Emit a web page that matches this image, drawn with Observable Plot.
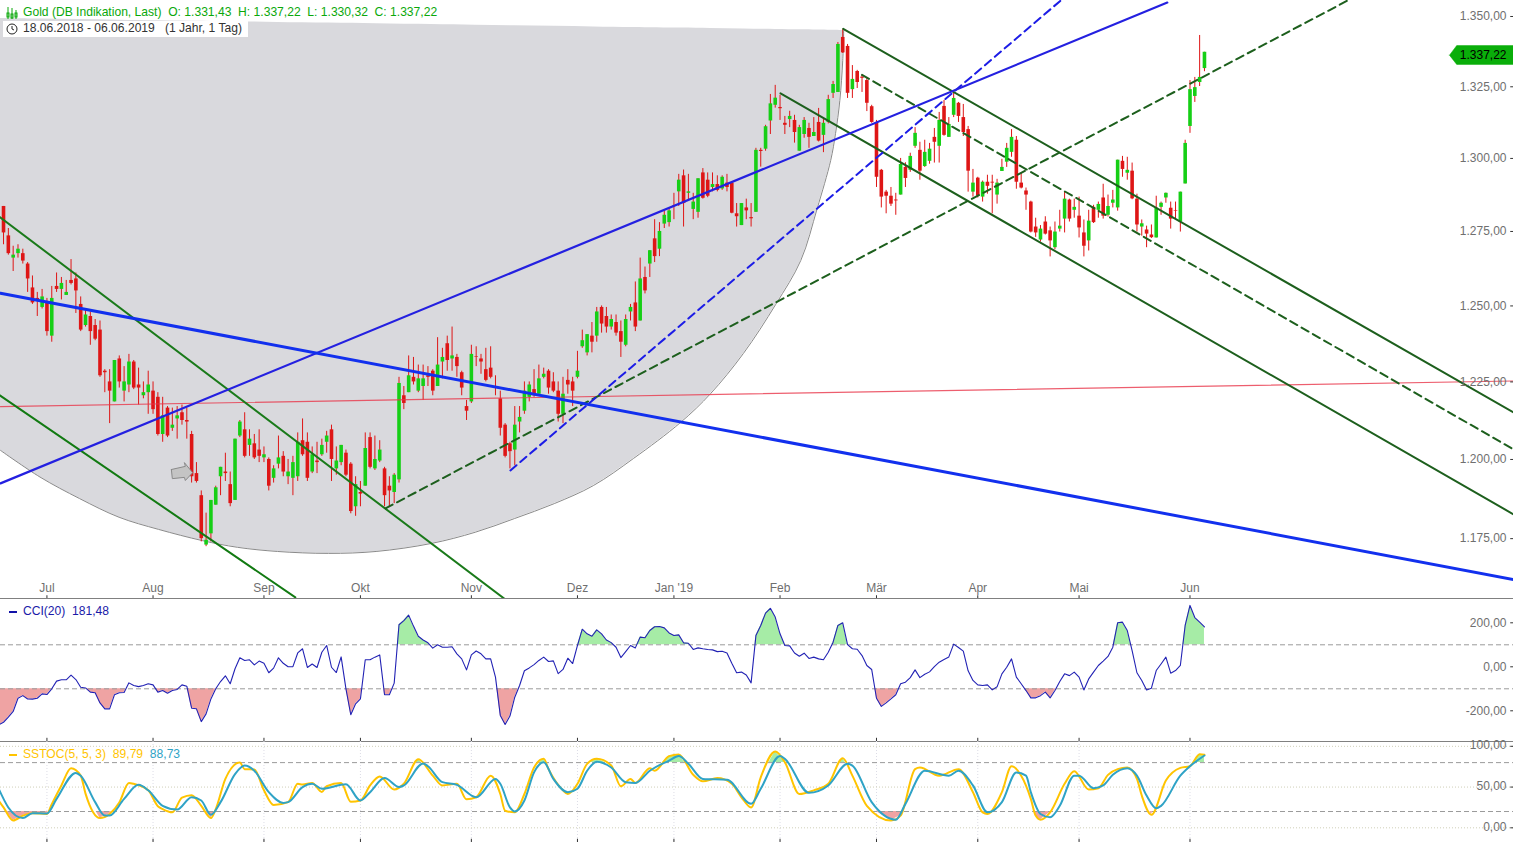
<!DOCTYPE html>
<html lang="de">
<head>
<meta charset="utf-8">
<title>Gold (DB Indikation, Last)</title>
<script src="https://cdn.jsdelivr.net/npm/d3@7"></script>
<script src="https://cdn.jsdelivr.net/npm/@observablehq/plot@0.6"></script>
<style>
html,body{margin:0;padding:0;background:#fff;overflow:hidden}
#chart{position:relative;width:1513px;height:842px;font:12.1px "Liberation Sans",Arial,sans-serif}
#chart svg{display:block}
.lbl{position:absolute;white-space:pre;line-height:14px}
</style>
</head>
<body>
<div id="chart"></div>
<script>
// Trading-day index of the first session of each month, and its label
const monthBars = [10,32,55,75,98,120,140,162,182,203,224,247];
const monthLabels = ["Jul","Aug","Sep","Okt","Nov","Dez","Jan '19","Feb","Mär","Apr","Mai","Jun"];
const priceTicks = [1350,1325,1300,1275,1250,1225,1200,1175];
const priceLabels = ["1.350,00","1.325,00","1.300,00","1.275,00","1.250,00","1.225,00","1.200,00","1.175,00"];
const cciTicks = [200,0,-200];
const cciLabels = ["200,00","0,00","-200,00"];
const stochTicks = [100,50,0];
const stochLabels = ["100,00","50,00","0,00"];

// Daily bars from session 1 on: open, high, low, close
const bars = [
[1283.5,1283.5,1270.5,1274.5],[1273.5,1276,1267,1267.5],[1266,1270,1261.5,1267],[1267.5,1270.5,1266,1269],
[1267.5,1269,1264,1265],[1264,1264.5,1254.5,1259],[1256,1260,1250.5,1251],[1252.5,1254.5,1246.5,1251.5],[1249.5,1255.5,1249,1253],
[1251,1252.5,1240,1241.5],[1240,1256.5,1238,1252.5],[1256.5,1261,1254.5,1255.5],[1255.5,1259.5,1252,1257.5],[1253.5,1258.5,1253.5,1254.5],
[1258.5,1265.5,1257,1257.5],[1259,1261,1247.5,1255],[1250.5,1253,1241.5,1242],[1243.5,1248.5,1243,1247],[1246.5,1248,1237,1241.5],
[1243.5,1245.5,1238.5,1239],[1242,1245,1226.5,1227],[1228.5,1229,1221.5,1228],[1225,1229,1211.5,1222],[1218.5,1232,1218.5,1232],
[1232.5,1233.5,1223,1225],[1222,1230,1218.5,1225],[1224,1234,1221.5,1231.5],[1231.5,1232,1222.5,1223],[1224,1229.5,1217.5,1223],
[1220.5,1225,1219.5,1221.5],[1221.5,1228.5,1214.5,1224],[1222,1225,1214.5,1216],[1220,1221.5,1207.5,1208],[1208,1220,1205.5,1214],
[1216.5,1217,1207,1207.5],[1210,1216.5,1209,1211],[1213,1217,1206.5,1214],[1215,1217.5,1211,1212.5],[1212.5,1216.5,1206.5,1212],
[1208,1209,1192.5,1194.5],[1195.5,1199,1192.5,1193],[1188.5,1190,1174,1175],[1173,1183,1172.5,1174.5],[1176.5,1187,1174,1187],
[1185.5,1191.5,1185.5,1191],[1194.5,1197.5,1188.5,1197.5],[1196,1202,1193,1195.5],[1192,1196,1185,1186],[1187,1206.5,1187,1206.5],
[1207.5,1212.5,1207,1212],[1209.5,1215,1200.5,1201],[1204.5,1209.5,1201,1206.5],[1205,1208,1200,1200.5],[1203,1209.5,1199,1201],
[1200.5,1204,1199,1201.5],[1200,1200.5,1190,1191.5],[1194,1198,1192.5,1197],[1198.5,1207.5,1197,1200.5],[1201,1202.5,1194.5,1196],
[1194.5,1200,1192,1196],[1194,1201,1188.5,1199],[1194.5,1208.5,1193,1205.5],[1206,1213,1201,1201.5],[1205.5,1208.5,1193,1194],
[1196,1204,1195.5,1201.5],[1199.5,1205.5,1195.5,1199],[1201.5,1206.5,1201,1204.5],[1205.5,1209,1202,1207.5],[1209.5,1211,1193,1200],
[1197,1204,1195,1199.5],[1199,1204.5,1198,1204.5],[1202,1203,1194.5,1195],[1198.5,1199,1182.8,1183.5],[1185,1194.5,1182,1192],
[1189.5,1193,1185,1189],[1191.5,1208.5,1191.5,1203.5],[1207,1208.5,1197,1197.5],[1197,1207.5,1196.5,1200],[1199.5,1206,1199,1203],
[1197,1197.5,1185,1188.5],[1191.5,1194.5,1185,1190],[1189.5,1195.5,1186,1195],[1193.5,1226.5,1192.5,1224.5],[1220.5,1223.5,1216,1218],
[1221.5,1233.5,1221.5,1227],[1226.5,1233,1224,1225],[1222,1230.5,1221.5,1226],[1223.5,1230.5,1219,1226],[1227,1230,1223.5,1226.5],
[1228.5,1229,1220.5,1222],[1223.5,1239.5,1223.5,1230.5],[1231.5,1236,1226,1233],[1237.5,1240,1228.5,1232],[1232.5,1243,1228.5,1233.5],
[1233,1234,1226.5,1230],[1228,1228.5,1220.5,1223],[1217,1219,1212.5,1215.5],[1218.5,1237,1218,1234],[1233.2,1236.5,1230,1233],
[1232.5,1234,1227.5,1231.5],[1229,1236,1225,1225.5],[1229.5,1236.5,1226,1226.5],[1223.5,1227,1220.5,1223],[1219.5,1222,1207.5,1210],
[1211,1211.5,1200.5,1201],[1205,1205.5,1197,1202.5],[1203,1217,1198,1211],[1212,1217,1208.5,1213.5],[1215.5,1225,1214.5,1222],
[1220,1225,1218.5,1224],[1222.5,1229,1220,1220.5],[1221,1230.5,1221,1226],[1226.5,1229.5,1226,1227.5],[1228.5,1229,1221,1223],
[1225,1228,1221.5,1222],[1222,1225,1212,1214.5],[1214.5,1226.5,1211.5,1221],[1225.5,1229,1221,1224],[1225,1226.5,1217,1222],
[1226.5,1235,1226,1228.5],[1236.5,1242,1236,1238.5],[1234.5,1240.5,1233.5,1240.5],[1240,1244.5,1234.5,1238],[1240,1249.5,1238,1248],
[1249.5,1250,1241,1244],[1246.5,1249.5,1241,1243],[1243,1247,1242,1245.5],[1244.5,1247,1240,1241],[1241.5,1245,1233,1238],
[1237,1247,1236.5,1245.5],[1248,1250.5,1245,1249.5],[1251,1258,1241.5,1243],[1245,1266,1245,1259],[1259.5,1263,1254,1255],
[1264,1268.5,1259.5,1268.5],[1272.5,1279,1264.5,1266.5],[1269,1278,1266.5,1275],[1277.5,1282,1276,1280.5],[1278,1283,1276.5,1282],
[1283.7,1288,1279,1283.5],[1288.5,1294.5,1283.5,1292.5],[1294,1296,1276.5,1284.5],[1288,1294.5,1285.5,1288.5],[1282.5,1288,1279,1285],
[1281.5,1293,1279.5,1293],[1295,1296.5,1286,1286.3],[1292.5,1295,1286.5,1287],[1290,1295,1288.5,1291],[1291,1294,1288.5,1289],
[1289.5,1294,1289,1293.5],[1291.5,1294.5,1288.5,1290],[1291.5,1292,1281,1281.2],[1281,1284.5,1276.5,1280],[1277,1284.5,1277,1284.5],
[1283,1286,1279,1282],[1279.7,1284.5,1276.5,1279.3],[1281.5,1303.5,1281.5,1302.8],[1302.8,1303.5,1297,1302.4],[1303.2,1311.5,1302.5,1311],
[1313,1322.3,1308.3,1319],[1318.5,1325.5,1317.5,1321],[1317.7,1322,1313.2,1317.3],[1312.2,1314.6,1308.3,1311.5],[1313.5,1316.4,1310.7,1314.6],
[1313.2,1315,1305.3,1309],[1302.5,1311.5,1302.5,1310.7],[1308.3,1314.2,1307,1313.2],[1310.4,1312.2,1303.5,1307.3],[1307.6,1314.2,1307.6,1309],
[1312.5,1317.4,1305.7,1306],[1308,1313.5,1302,1312.2],[1312.5,1322,1312,1320.5],[1322.7,1326.9,1320.9,1325.8],[1323,1340.7,1323,1340],
[1342.5,1345.3,1336.8,1337],[1339.3,1340,1320.9,1322.7],[1324,1332.5,1320.9,1327.6],[1330.4,1330.8,1324.4,1326.5],[1328.4,1329.1,1323,1328],
[1327.2,1328.3,1316.3,1319.2],[1318,1318.5,1312.2,1312.5],[1312.5,1313.2,1290,1293.5],[1295.9,1296.2,1283,1286.7],[1288.4,1289,1281,1287],
[1287,1290,1283.5,1284.3],[1285.7,1288,1280.5,1285.4],[1287.4,1300,1287.4,1297.9],[1296.9,1298.5,1290,1293.1],[1295.9,1301.8,1295.2,1300.7],
[1304.2,1310.7,1303.5,1308.7],[1302.8,1305.6,1292.5,1295.6],[1297.2,1306.3,1296.9,1302.1],[1299,1305.2,1298,1303.2],[1307.3,1310.4,1298.4,1305.6],
[1304.2,1316,1298.4,1313.2],[1318.1,1320.2,1307.7,1308],[1307.3,1314.2,1307.3,1311.8],[1315,1323,1314.2,1320.9],[1319.2,1319.5,1312.5,1314.6],
[1314.2,1318.8,1307.6,1309],[1310,1311.1,1288.4,1295.6],[1288.4,1296.2,1286.7,1291.5],[1293.2,1293.5,1286.4,1287],[1286.7,1292.2,1285,1291.8],
[1291.8,1294.2,1287.7,1290.4],[1291.8,1294.2,1281,1291.5],[1287.4,1292.8,1284.3,1291.5],[1295.5,1299.7,1295.5,1296.9],[1298.7,1305.2,1296.9,1303.5],
[1302.1,1310,1300.4,1307.3],[1306.3,1307.6,1289.4,1291.8],[1291.5,1295,1289.5,1289.8],[1288.8,1289.8,1282.2,1287.4],[1285,1285.3,1274.5,1274.8],
[1276.5,1279.5,1273,1274.5],[1272.1,1277,1271.4,1275.8],[1278.2,1280,1273.8,1274.1],[1275.2,1276.5,1266.4,1271.8],[1269.5,1278.2,1268.8,1274.8],
[1275.8,1282.2,1274.8,1276.8],[1279.2,1288.4,1274.5,1286],[1285.7,1286,1278.2,1279.2],[1282.2,1286,1279.5,1283.2],[1280.2,1286.7,1272.8,1276.2],
[1274.5,1278.9,1266.4,1270],[1271.8,1282.2,1268.4,1278.5],[1283.2,1283.9,1277.7,1278],[1282.2,1285,1279.5,1284.2],[1286.4,1291.1,1279.2,1280.2],
[1280.5,1287.4,1279.9,1283.5],[1284.6,1289,1283,1285.7],[1283,1299.4,1281.9,1299.4],[1299,1300.7,1293.5,1296.2],[1294.9,1300.4,1292.5,1295.9],
[1295.6,1298.4,1285.8,1286.1],[1286,1287.7,1274.8,1277.2],[1276.5,1278.9,1273.4,1277.6],[1275.5,1276.8,1269.5,1274.1],[1273.8,1277.2,1272.6,1272.9],
[1272.8,1287,1272.8,1282.9],[1283.2,1285,1280.5,1284.6],[1286.4,1288.1,1284.6,1288],[1282.9,1285,1275.8,1279.2],[1282,1285,1279.2,1281.8],
[1278.2,1288.4,1274.8,1288.4],[1291.2,1306.3,1291.2,1305.2],[1311.1,1327.2,1308.7,1324],[1321.6,1328.3,1319.5,1324.7],[1326.5,1343.2,1325.1,1328.3],
[1331.43,1337.22,1330.32,1337.22]
];

// CCI(20), one value per bar
const cciValues = [
-264,-252,-229,-203,-143,-131,-146,-147,-143,-123,-126,-100,-65,-59,-59,-38,-58,-93,-96,-115,
-118,-164,-191,-191,-127,-118,-117,-73,-85,-90,-85,-77,-82,-115,-108,-120,-108,-103,-82,-88,
-188,-191,-249,-214,-146,-100,-67,-41,-77,-9,41,29,32,9,26,16,-27,-6,41,16,
0,1,63,82,-3,13,-3,66,97,-2,-26,45,-100,-218,-168,-146,32,32,44,54,
-127,-127,-74,191,210,235,185,139,122,109,85,100,89,89,91,59,36,-14,54,72,
59,36,36,-47,-221,-262,-224,-138,-85,-18,-5,10,29,44,24,27,-31,-12,39,15,
97,171,150,139,168,150,122,110,89,42,69,97,86,135,132,165,182,183,177,154,
142,145,109,107,79,86,82,79,77,69,71,63,16,-27,-24,-37,-73,142,188,244,
266,226,150,97,95,63,48,62,38,44,36,32,66,112,188,200,101,82,80,51,
6,-12,-143,-180,-164,-146,-127,-77,-70,-49,-14,-49,-34,-23,1,21,33,45,103,88,
71,-18,-62,-82,-85,-82,-105,-91,-32,-2,36,-47,-77,-108,-141,-141,-131,-115,-141,-108,
-67,-32,-40,-24,-47,-105,-55,-24,6,26,47,89,200,203,165,74,-27,-62,-105,-97,
-17,13,44,-29,-17,6,188,279,224,203,181.48
];

// SSTOC(5,5,3) lines, read at their turning points: [bar, value]
const stochK = [
[0,33.5],[1,25],[3,9],[5,15],[7,18],[10,17],[11,29],[13,52],[15,73],[17,64],[18,42],[21,12],[23,17],[25,31],[27,55],[28,54],[31,46],[33,26.5],[34,23],[36,19],[38,37],[40,40],[42,27],[44,12],[45,23],[47,60],[50,80],[51,72],[53,71.5],[55,46],[57,28],[60,31.5],[62,54],[63,53],[65,55],[67,44],[68,51],[71,55],[73,32],[75,33.5],[77,52],[79,63],[82,47],[84,54],[87,84],[90,64],[92,52],[95,54],[97,35],[99,37.5],[102,64],[104,41.5],
[105,21],[107,19],[109,41.5],[111,74],[113,84.6],[114,72],[117,46],[118,41.5],[120,54],[122,78.5],[124,84.6],[127,76.4],[129,51],[131,60],[132,55],[135,73],[136,70],[139,88],[141,90],[144,65],[146,57],[149,61],[152,54],[154,37.5],[156,25],[158,62],[161,93.6],[163,80.5],[166,41.5],[169,46],[172,54],[175,85.4],[177,64],[180,27],[185,9],[187,15],[190,72],[191,74],[195,64],[199,72],[202,43.7],[204,19],[205,17],[208,43.7],
[210,75.6],[212,64],[214,35.5],[215,15],[216,10],[218,19],[221,54],[223,69.5],[226,47],[228,48.6],[230,65],[232,72],[234,74],[236,60],[237,39.6],[239,16],[242,58],[245,73.5],[247,75.6],[249,90.3],[250,89.79]
];
const stochD = [
[0,48],[2,25],[5,12],[7,18],[10,17.5],[12,35.5],[16,67.4],[17,64],[20,31.5],[22,15],[23,15],[26,35.5],[29,52.7],[31,46],[34,27],[37,22.4],[40,37.5],[42,33.5],[44,16],[46,31.5],[49,66],[51,76.4],[53,70],[56,43.7],[59,30.6],[60,31.5],[63,50],[65,54],[67,48],[72,53.5],[75,33.5],[77,43.7],[80,61],[83,50],[84,52],[88,79],[89,75.6],[92,56],[95,52.7],[99,37.5],[103,60],
[104,54],[106,25],[107,20],[109,33.5],[111,68],[113,80.5],[115,60],[118,43.7],[120,48],[122,70],[124,81],[127,74],[130,56],[132,55],[135,70],[139,82.5],[141,88],[143,78.5],[146,60],[151,59],[156,29.4],[158,48],[162,88],[163,84.6],[168,43],[172,52],[176,78.5],[177,76.4],[181,31.5],[186,10],[188,29.4],[192,70],[197,64],[199,70],[202,52],[205,19],[208,31.5],
[211,68],[213,64],[214,43.7],[216,17],[218,13],[220,27],[223,64],[224,64],[227,48.6],[229,52],[231,65],[234,73],[236,64],[238,39.6],[240,24],[241,27],[245,64],[247,75.6],[250,88.73]
];

// Drawn trend lines: [bar, price] at each end
const blueThick = [[0.37,1254.2],[314.1,1162.3]];
const blueSolid = [[0.37,1192.4],[242.3,1355]];
const blueDashed = [[106.1,1196.5],[220.2,1355.75]];
const greenDashed = [[80.2,1184.5],[279.7,1355.75]];
const redLine = [[0.37,1217],[314.1,1225.3]];
const channelAUpper = [[0,1280.2],[105.1,1156.1]];
const channelALower = [[0,1220.9],[61.5,1156.8]];
const channelBTop = [[175.1,1345.6],[314.1,1215.1]];
const channelBMid = [[179,1329.2],[314.1,1203.2]];
const channelBLow = [[162.1,1322.7],[314.1,1182.6]];

// Grey ellipse annotation: lower arc [bar, price], and its upper chord
const arc = [[0.37,1202.9],[8.56,1194.4],[16.75,1187.6],[24.96,1181.7],[33.13,1177.9],[42.2,1174.4],[49.5,1172.3],[57.8,1171],[68.4,1170.4],[78.25,1171],[89.7,1173.5],[98.8,1177],[106.95,1181.3],[115.2,1186],[123.3,1191.7],[131.6,1200.3],[141.4,1211.9],[147.6,1221.2],[154.4,1234.3],[161.1,1250.5],[166.3,1265.2],[169.7,1282.8],[172.5,1299.3],[173.5,1308.6],[174.4,1320.2],[175,1334.3],[175.2,1345]];
const chord = [1349.3,1345];
// Grey arrow annotation and last-price flag outlines: [bar, price]
const arrowOutline = [[35.8,1196.8],[38.7,1197.8],[38.5,1199],[40.2,1195.8],[38.7,1193.3],[38.5,1194.3],[36,1193.9],[35.8,1196.8]];
const flagOutline = [[300.8,1336.2],[302.3,1339.6],[314.07,1339.6],[314.07,1332.9],[302.3,1332.9],[300.8,1336.2]];
const lastPriceLabel = "1.337,22";

const W = 1513;
const xDomain = [0.373,314.075];
const FONT = '"Liberation Sans",Arial,sans-serif';
const GREY = "#6f6f6f";
const UP = "#16cf16", DOWN = "#de1616";
const rows = bars.map(([o,h,l,c],k)=>({i:k+1,o,h,l,c}));
const isUp = d => d.c >= d.o;
const P0 = d=>d[0], P1 = d=>d[1];

function trend(points, opts){ return Plot.line(points,{x:P0,y:P1,clip:true,...opts}); }

// Insert the crossings with a level so a fill stops where the line meets it
function band(points, level, above){
  const out=[];
  const side=v=>above?Math.max(v,level):Math.min(v,level);
  points.forEach((p,k)=>{
    if(k){
      const q=points[k-1];
      if((q[1]-level)*(p[1]-level)<0){
        out.push({x:q[0]+(level-q[1])/(p[1]-q[1])*(p[0]-q[0]),y:level});
      }
    }
    out.push({x:p[0],y:side(p[1])});
  });
  return out;
}
const base = {width:W,marginTop:0,marginRight:0,marginBottom:0,marginLeft:0,style:{fontFamily:FONT,fontSize:"12px",background:"transparent",overflow:"hidden"}};
const monthText = {x:d=>d,text:(d,i)=>monthLabels[i],fill:GREY,fontSize:12,fontFamily:FONT};

const main = Plot.plot({
  ...base,height:598,
  x:{domain:xDomain,axis:null},
  y:{type:"log",domain:[1156.45,1355.75],axis:null},
  marks:[
    Plot.areaY(arc,{x:P0,y1:d=>chord[0]+(chord[1]-chord[0])*d[0]/175.2,y2:P1,fill:"#d9d9dd",curve:"catmull-rom"}),
    Plot.line(arc,{x:P0,y:P1,stroke:"#8a8a8a",strokeWidth:1,curve:"catmull-rom"}),
    Plot.ruleX(rows,{x:"i",y1:"l",y2:"h",stroke:DOWN,strokeWidth:1}),
    Plot.ruleX(rows.filter(isUp),{x:"i",y1:"o",y2:"c",stroke:UP,strokeWidth:3.6}),
    Plot.ruleX(rows.filter(d=>!isUp(d)),{x:"i",y1:"o",y2:"c",stroke:DOWN,strokeWidth:3.6}),
    trend(redLine,{stroke:"#e8364a",strokeWidth:1.2,strokeOpacity:.8}),
    trend(channelAUpper,{stroke:"#1a7a1a",strokeWidth:2}),
    trend(channelALower,{stroke:"#127a12",strokeWidth:2}),
    trend(channelBTop,{stroke:"#1d5f1d",strokeWidth:2}),
    trend(channelBLow,{stroke:"#1d5f1d",strokeWidth:2}),
    trend(channelBMid,{stroke:"#1d5f1d",strokeWidth:2,strokeDasharray:"8,5"}),
    trend(greenDashed,{stroke:"#1d5f1d",strokeWidth:2,strokeDasharray:"8,5"}),
    trend(blueDashed,{stroke:"#1c1ce6",strokeWidth:2,strokeDasharray:"8,5"}),
    trend(blueSolid,{stroke:"#2420e0",strokeWidth:2.2}),
    trend(blueThick,{stroke:"#1230ee",strokeWidth:3}),
    Plot.line(arrowOutline,{x:P0,y:P1,fill:"#c4c4c4",stroke:"#8a8a8a",strokeWidth:1}),
    Plot.line(flagOutline,{x:P0,y:P1,fill:"#0aae0a",stroke:"#0aae0a",strokeWidth:0.5}),
    Plot.ruleX(monthBars,{x:d=>d,y1:1156.45,y2:1157.3,stroke:"#333"}),
    Plot.text(monthBars,{...monthText,frameAnchor:"bottom",dy:-7}),
    Plot.ruleY(priceTicks,{y:d=>d,x1:313.5,x2:314.075,stroke:"#333"}),
    Plot.text(priceTicks,{y:d=>d,text:(d,i)=>priceLabels[i],frameAnchor:"right",dx:-7,fill:GREY,fontSize:12,fontFamily:FONT}),
    Plot.text([1336.2],{y:d=>d,text:()=>lastPriceLabel,frameAnchor:"right",dx:-7,fill:"#000",fontSize:12,fontFamily:FONT})
  ]
});

const cciPoints = cciValues.map((v,i)=>[i,v]);
const cci = Plot.plot({
  ...base,height:143,
  x:{domain:xDomain,axis:null},
  y:{domain:[-339.5,310.5],axis:null},
  marks:[
    Plot.frame({anchor:"top",stroke:"#808080"}),
    Plot.areaY(band(cciPoints,100,true),{x:"x",y1:100,y2:"y",fill:"#a6eca6"}),
    Plot.areaY(band(cciPoints,-100,false),{x:"x",y1:-100,y2:"y",fill:"#efa3a3"}),
    Plot.ruleY([100,-100],{stroke:"#9a9a9a",strokeDasharray:"5,3"}),
    Plot.line(cciPoints,{x:P0,y:P1,stroke:"#2222b4",strokeWidth:1.1}),
    Plot.ruleX(monthBars,{x:d=>d,y1:-339.5,y2:-325,stroke:"#333"}),
    Plot.ruleY(cciTicks,{y:d=>d,x1:313.5,x2:314.075,stroke:"#333"}),
    Plot.text(cciTicks,{y:d=>d,text:(d,i)=>cciLabels[i],frameAnchor:"right",dx:-7,fill:GREY,fontSize:12,fontFamily:FONT})
  ]
});

const stoch = Plot.plot({
  ...base,height:101,
  style:{...base.style,overflow:"visible"},
  x:{domain:xDomain,axis:null},
  y:{domain:[-18,105.9],axis:null},
  marks:[
    Plot.frame({anchor:"top",stroke:"#808080"}),
    Plot.ruleX(monthBars,{x:d=>d,stroke:"#dcdce6",strokeDasharray:"1,2"}),
    Plot.ruleY([100,50,0],{stroke:"#cfcfb8",strokeDasharray:"1,2"}),
    Plot.areaY(band(stochK,80,true),{x:"x",y1:80,y2:"y",fill:"#a6eca6"}),
    Plot.areaY(band(stochK,20,false),{x:"x",y1:20,y2:"y",fill:"#efa3a3"}),
    Plot.ruleY([80,20],{stroke:"#9a9a9a",strokeDasharray:"5,3"}),
    Plot.line(stochK,{x:P0,y:P1,stroke:"#ffc400",strokeWidth:2,curve:"monotone-x"}),
    Plot.line(stochD,{x:P0,y:P1,stroke:"#2fa3c6",strokeWidth:2,curve:"monotone-x"}),
    Plot.ruleX(monthBars,{x:d=>d,y1:-18,y2:-14,stroke:"#333"}),
    Plot.ruleY(stochTicks,{y:d=>d,x1:313.5,x2:314.075,stroke:"#333"}),
    Plot.text(stochTicks,{y:d=>d,dy:-1,text:(d,i)=>stochLabels[i],frameAnchor:"right",dx:-7,fill:GREY,fontSize:12,fontFamily:FONT})
  ]
});

const root = document.getElementById("chart");
root.append(main,cci,stoch);

const G = "#0aa80a";
root.insertAdjacentHTML("beforeend",`
<svg width="14" height="14" viewBox="0 0 14 14" style="position:absolute;left:5px;top:6px"><g stroke="${G}" fill="none"><path d="M3 1v12M7 2v11M11 4v9"/><rect x="2" y="7" width="2" height="4"/><rect x="6" y="8" width="2" height="4"/><rect x="10" y="7" width="2" height="4"/></g></svg>
<div class="lbl" style="left:23px;top:5px;color:${G}">Gold (DB Indikation, Last)  O: 1.331,43  H: 1.337,22  L: 1.330,32  C: 1.337,22</div>
<div style="position:absolute;left:3px;top:21px;width:245px;height:16px;background:#fff"></div>
<svg width="12" height="12" viewBox="0 0 12 12" style="position:absolute;left:6px;top:23px"><circle cx="6" cy="6" r="5" fill="none" stroke="#222"/><path d="M6 3v3l2 1" fill="none" stroke="#222"/></svg>
<div class="lbl" style="left:23px;top:21px;color:#333">18.06.2018 - 06.06.2019   (1 Jahr, 1 Tag)</div>
<div style="position:absolute;left:9px;top:611px;width:8px;height:2px;background:#1212a8"></div>
<div class="lbl" style="left:23px;top:604px;color:#1a1aa8">CCI(20)  181,48</div>
<div style="position:absolute;left:9px;top:754px;width:8px;height:2px;background:#ffc400"></div>
<div class="lbl" style="left:23px;top:747px;color:#ffc400">SSTOC(5, 5, 3)  89,79  <span style="color:#2fa3c6">88,73</span></div>
`);
</script>
</body>
</html>
